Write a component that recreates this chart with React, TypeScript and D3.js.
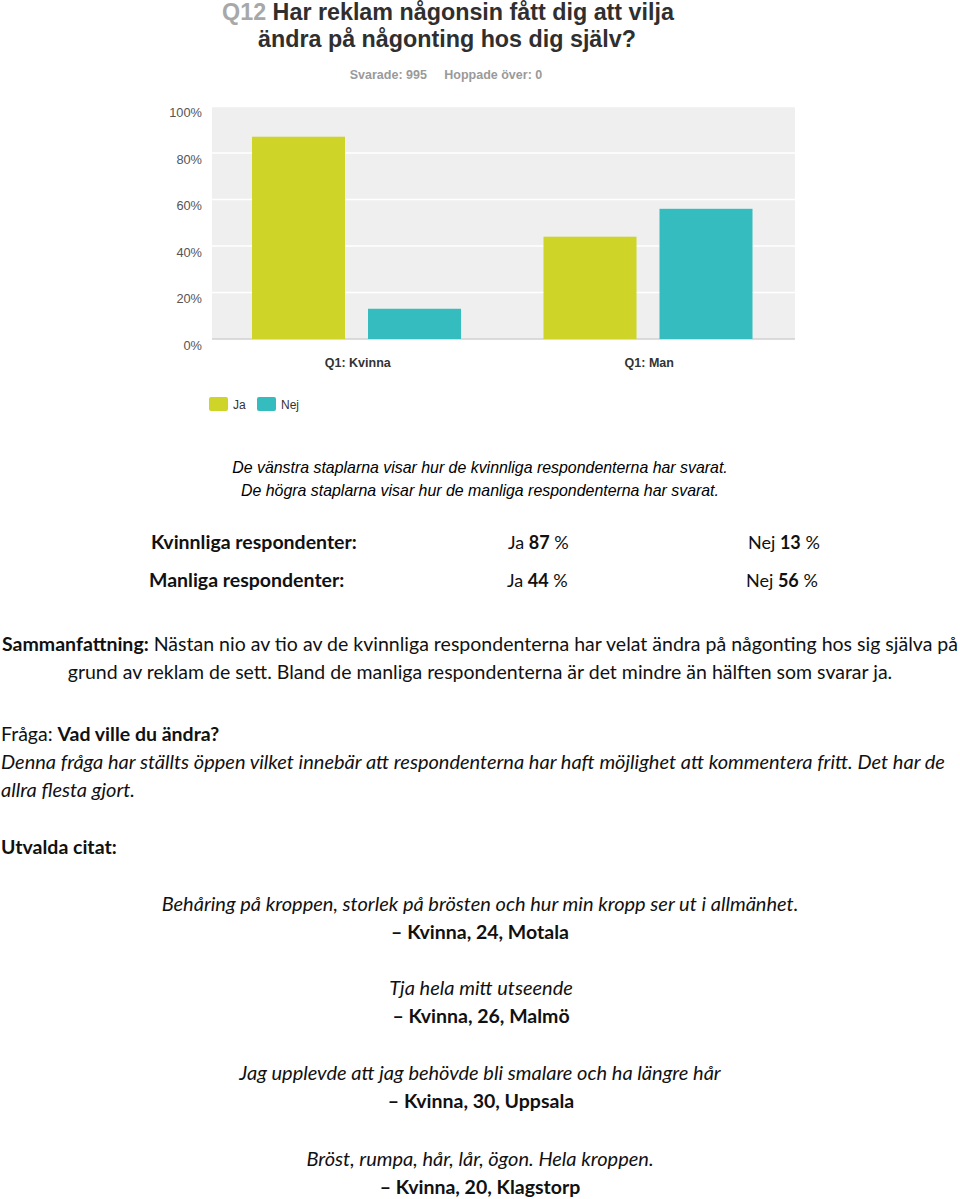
import React from "react";
import * as d3 from "d3";

const groups = ["Q1: Kvinna", "Q1: Man"];
const seriesNames = ["Ja", "Nej"];
const jaValues = [87, 44];
const nejValues = [13, 56];
const yTicks = [0, 20, 40, 60, 80, 100];
const colors = ["#CED428", "#34BCBE"];

const W = 960;
const H = 1199;
const FONT = "Lato, 'Open Sans', sans-serif";
const ARIAL = "Arial, 'Liberation Sans', sans-serif";

export default function App() {
  const x0 = d3.scaleBand().domain(groups).range([212, 795]).paddingInner(0).paddingOuter(0);
  const x1 = d3.scaleBand().domain(seriesNames).range([40, 249]).paddingInner(23 / 116).paddingOuter(0);
  const y = d3.scaleLinear().domain([0, 100]).range([339, 106.5]);
  const vals = [jaValues, nejValues];

  return (
    <svg width={W} height={H} style={{ position: "absolute", left: 0, top: 0, background: "#fff" }}>
      {/* Title */}
      <g fontFamily={ARIAL} fontWeight="bold" textAnchor="middle">
        <text x={448} y={20} fontSize={23.3} fill="#2f2f2f">
          <tspan fill="#a8a8a8">Q12</tspan> Har reklam någonsin fått dig att vilja
        </text>
        <text x={447} y={47} fontSize={23.3} fill="#2f2f2f">ändra på någonting hos dig själv?</text>
        <text x={446} y={79} fontSize={12.5} fill="#9a9a9a">
          Svarade: 995{"\u00a0\u00a0\u00a0\u00a0\u00a0"}Hoppade över: 0
        </text>
      </g>

      {/* Plot area */}
      <rect x={212} y={106.5} width={583} height={232.5} fill="#efefef" />
      {yTicks.map((t) => (
        <g key={t}>
          <line x1={212} x2={795} y1={y(t)} y2={y(t)} stroke={t === 0 ? "#d0d0d0" : "#ffffff"} strokeWidth={1.5} />
          <text x={202} y={y(t) + 10.5} textAnchor="end" fontSize={12.8} fontFamily={ARIAL} fill="#555">
            {t}%
          </text>
        </g>
      ))}
      {groups.map((g, gi) => (
        <g key={g} transform={`translate(${x0(g)},0)`}>
          {seriesNames.map((s, si) => (
            <rect
              key={s}
              x={x1(s)}
              y={y(vals[si][gi])}
              width={x1.bandwidth()}
              height={y(0) - y(vals[si][gi])}
              fill={colors[si]}
            />
          ))}
          <text
            x={x0.bandwidth() / 2}
            y={366.5}
            textAnchor="middle"
            fontSize={12.5}
            fontWeight="bold"
            fontFamily={ARIAL}
            fill="#333"
          >
            {g}
          </text>
        </g>
      ))}

      {/* Legend */}
      {seriesNames.map((s, i) => (
        <g key={s} transform={`translate(${209 + i * 48},397)`}>
          <rect width={19} height={14} rx={2} fill={colors[i]} />
          <text x={24} y={11.5} fontSize={12} fontFamily={ARIAL} fill="#333">
            {s}
          </text>
        </g>
      ))}

      {/* Notes */}
      <g fontFamily={ARIAL} fontStyle="italic" fontSize={15.9} fill="#000" textAnchor="middle">
        <text x={480} y={473}>De vänstra staplarna visar hur de kvinnliga respondenterna har svarat.</text>
        <text x={480} y={496}>De högra staplarna visar hur de manliga respondenterna har svarat.</text>
      </g>

      <g fontFamily={FONT} fontSize={19.5} fill="#111">
        <text x={151} y={549} fontWeight="bold">Kvinnliga respondenter:</text>
        <text x={508} y={549} fontSize={18}>Ja <tspan fontWeight="bold">87</tspan> %</text>
        <text x={748} y={549} fontSize={18}>Nej <tspan fontWeight="bold">13</tspan> %</text>
        <text x={149} y={587} fontWeight="bold">Manliga respondenter:</text>
        <text x={507} y={587} fontSize={18}>Ja <tspan fontWeight="bold">44</tspan> %</text>
        <text x={746} y={587} fontSize={18}>Nej <tspan fontWeight="bold">56</tspan> %</text>

        <text x={480} y={651} textAnchor="middle" textLength={956} lengthAdjust="spacingAndGlyphs">
          <tspan fontWeight="bold">Sammanfattning:</tspan> Nästan nio av tio av de kvinnliga respondenterna har velat ändra på någonting hos sig själva på
        </text>
        <text x={480} y={679} textAnchor="middle">
          grund av reklam de sett. Bland de manliga respondenterna är det mindre än hälften som svarar ja.
        </text>

        <text x={1} y={741}>Fråga: <tspan fontWeight="bold">Vad ville du ändra?</tspan></text>
        <g fontStyle="italic" fontSize={20}>
          <text x={1} y={769}>
            Denna fråga har ställts öppen vilket innebär att respondenterna har haft möjlighet att kommentera fritt. Det har de
          </text>
          <text x={1} y={797}>allra flesta gjort.</text>
        </g>

        <text x={1} y={854} fontWeight="bold">Utvalda citat:</text>

        <g textAnchor="middle">
          <text x={480} y={911} fontStyle="italic" fontSize={20}>Behåring på kroppen, storlek på brösten och hur min kropp ser ut i allmänhet.</text>
          <text x={480} y={939} fontWeight="bold">– Kvinna, 24, Motala</text>
          <text x={481} y={995} fontStyle="italic" fontSize={20}>Tja hela mitt utseende</text>
          <text x={481} y={1023} fontWeight="bold">– Kvinna, 26, Malmö</text>
          <text x={480} y={1080} fontStyle="italic" fontSize={20}>Jag upplevde att jag behövde bli smalare och ha längre hår</text>
          <text x={481} y={1108} fontWeight="bold">– Kvinna, 30, Uppsala</text>
          <text x={480} y={1166} fontStyle="italic" fontSize={20}>Bröst, rumpa, hår, lår, ögon. Hela kroppen.</text>
          <text x={480} y={1194} fontWeight="bold">– Kvinna, 20, Klagstorp</text>
        </g>
      </g>
    </svg>
  );
}
